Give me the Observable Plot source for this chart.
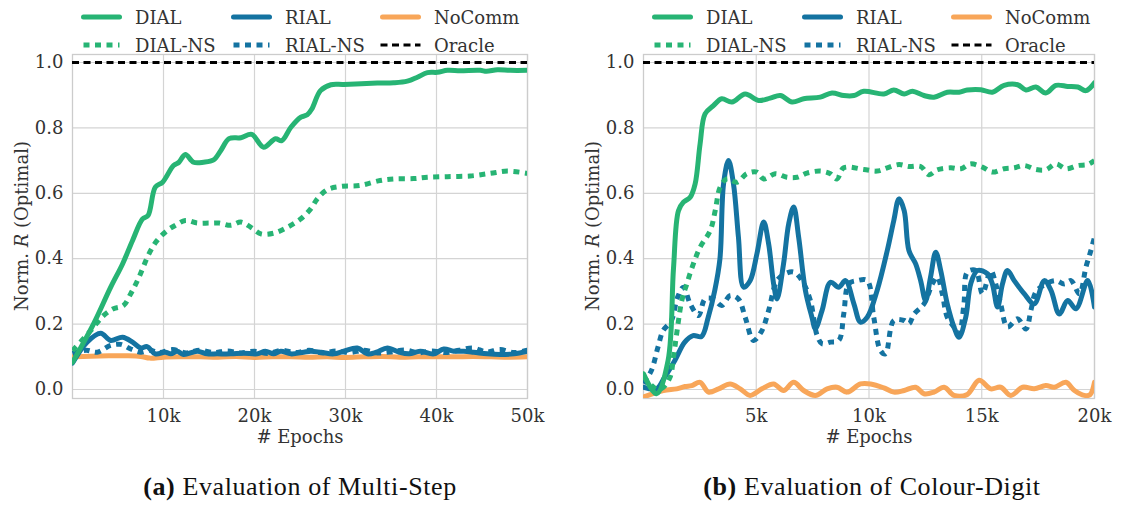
<!DOCTYPE html>
<html>
<head>
<meta charset="utf-8">
<script src="https://cdn.jsdelivr.net/npm/d3@7"></script>
<script src="https://cdn.jsdelivr.net/npm/@observablehq/plot@0.6"></script>
<style>
  body { margin: 0; background: #fff; }
  #fig { position: relative; width: 1125px; height: 507px; font-family: "DejaVu Serif", serif; color: #333; overflow: hidden; }
  #fig svg text { font-family: "DejaVu Serif", serif; }
  .panel { position: absolute; top: 0; }
  .leg { position: absolute; display: flex; align-items: center; font-family: "DejaVu Serif", serif; font-size: 18px; color: #333; white-space: nowrap; }
  .leg svg { margin-right: 13px; }
  .caption { position: absolute; top: 472px; width: 440px; text-align: center; font-family: "Liberation Serif", serif; font-size: 26px; letter-spacing: 0.6px; color: #111; }
</style>
</head>
<body>
<div id="fig"></div>
<script>
// Training curves, epochs in thousands, normalised reward relative to the optimum.

// (a) Multi-Step
const msDIAL = [[0,0.083],[2.3,0.20],[4.2,0.313],[5.5,0.384],[6.6,0.456],[7.7,0.522],[8.3,0.532],[9.1,0.619],[9.9,0.634],[11.1,0.685],[11.7,0.695],[12.4,0.719],[13.3,0.695],[14.4,0.695],[15.5,0.702],[16.3,0.731],[17.2,0.767],[18.5,0.770],[19.7,0.78],[21.0,0.741],[22.3,0.767],[23.0,0.761],[24.0,0.802],[25.1,0.833],[25.8,0.84],[26.3,0.858],[27.25,0.914],[28.4,0.932],[29.8,0.933],[33.5,0.937],[35.3,0.938],[36.8,0.943],[37.9,0.955],[39.0,0.969],[40.1,0.97],[41.2,0.976],[42.6,0.975],[44.8,0.976],[45.5,0.973],[46.7,0.978],[48.1,0.976],[50,0.976]];
const msDIALNS = [[0,0.119],[2.0,0.18],[3.4,0.226],[4.5,0.247],[5.6,0.257],[6.4,0.293],[7.3,0.343],[8.4,0.415],[9.3,0.456],[10.4,0.486],[11.3,0.502],[12.4,0.517],[13.7,0.509],[15.0,0.509],[16.1,0.509],[17.4,0.502],[18.5,0.512],[19.6,0.496],[20.7,0.476],[22.1,0.478],[23.6,0.496],[25.1,0.522],[26.2,0.553],[26.9,0.583],[28.0,0.611],[29.5,0.621],[31.6,0.624],[33.8,0.639],[35.3,0.644],[37.5,0.645],[39.0,0.649],[41.2,0.651],[43.7,0.653],[45.9,0.661],[47.8,0.668],[50,0.661]];
const msRIAL = [[0,0.081],[1.6,0.145],[3.1,0.172],[4.2,0.150],[5.5,0.160],[6.6,0.145],[7.5,0.127],[8.2,0.131],[9.1,0.109],[10.2,0.114],[10.8,0.109],[11.5,0.117],[12.2,0.107],[13.7,0.117],[14.8,0.109],[15.9,0.109],[17.4,0.109],[18.8,0.111],[20.3,0.109],[21.2,0.117],[22.1,0.109],[22.9,0.117],[24.0,0.109],[25.4,0.114],[26.2,0.117],[27.3,0.114],[28.7,0.109],[29.8,0.117],[31.3,0.127],[32.4,0.109],[33.4,0.114],[34.6,0.127],[35.9,0.114],[37.0,0.109],[38.2,0.117],[39.7,0.109],[40.8,0.124],[41.9,0.117],[43.0,0.117],[44.1,0.114],[45.6,0.109],[47.0,0.107],[48.5,0.109],[50,0.117]];
const msRIALNS = [[0,0.11],[1.5,0.12],[2.7,0.114],[4.2,0.135],[5.3,0.138],[6.4,0.124],[7.5,0.114],[8.5,0.12],[9.5,0.113],[11,0.122],[12.5,0.112],[14,0.12],[15.5,0.113],[17,0.118],[18.5,0.112],[20,0.117],[21.5,0.11],[23,0.12],[24.5,0.113],[26,0.12],[27.5,0.112],[29,0.118],[30.5,0.113],[32,0.12],[33.5,0.112],[35,0.115],[36.5,0.121],[38,0.112],[39.5,0.118],[41,0.113],[42.5,0.12],[44,0.127],[45.5,0.115],[47,0.122],[48.5,0.113],[50,0.12]];
const msNoComm = [[0,0.1],[2,0.102],[4,0.103],[6,0.103],[7.5,0.101],[8.5,0.096],[10,0.099],[12,0.1],[14,0.1],[16,0.099],[18,0.101],[20,0.098],[22,0.1],[24,0.1],[26,0.099],[28,0.1],[30,0.098],[32,0.1],[34,0.101],[36,0.099],[38,0.1],[40,0.1],[42,0.1],[44,0.101],[46,0.1],[48,0.099],[50,0.1]];

// (b) Colour-Digit
const cdDIAL = [[0,0.048],[0.57,-0.013],[1.09,0.089],[1.33,0.37],[1.55,0.547],[1.77,0.573],[2.07,0.588],[2.29,0.629],[2.51,0.751],[2.73,0.843],[3.10,0.868],[3.47,0.889],[3.92,0.879],[4.51,0.904],[5.10,0.884],[5.62,0.891],[6.07,0.899],[6.59,0.879],[7.10,0.889],[7.84,0.894],[8.36,0.907],[8.88,0.899],[9.33,0.899],[9.77,0.912],[10.66,0.904],[11.10,0.916],[11.56,0.904],[11.92,0.912],[12.44,0.899],[12.88,0.894],[13.47,0.909],[13.99,0.909],[14.36,0.916],[14.96,0.917],[15.47,0.909],[15.99,0.930],[16.59,0.932],[16.96,0.916],[17.40,0.925],[17.84,0.907],[18.29,0.930],[18.81,0.927],[19.26,0.925],[19.62,0.914],[20,0.938]];
const cdDIALNS = [[0,0.04],[0.6,0.0],[0.88,0.007],[1.18,0.038],[1.33,0.099],[1.47,0.17],[1.70,0.272],[1.92,0.323],[2.21,0.384],[2.51,0.435],[2.96,0.486],[3.18,0.547],[3.40,0.619],[3.70,0.644],[4.14,0.634],[4.58,0.660],[5.03,0.665],[5.33,0.644],[5.84,0.660],[6.36,0.649],[6.81,0.649],[7.25,0.662],[7.84,0.668],[8.29,0.660],[8.58,0.644],[8.88,0.678],[9.77,0.673],[10.36,0.668],[10.81,0.678],[11.33,0.688],[11.77,0.682],[12.29,0.682],[12.66,0.657],[13.03,0.672],[13.62,0.678],[14.07,0.675],[14.51,0.690],[15.03,0.680],[15.47,0.665],[15.99,0.675],[16.44,0.678],[16.88,0.685],[17.40,0.673],[17.84,0.672],[18.29,0.690],[18.73,0.675],[19.26,0.685],[19.70,0.688],[20,0.70]];
const cdRIAL = [[0,0.007],[0.57,0.002],[0.94,0.038],[1.39,0.089],[1.83,0.145],[2.2,0.165],[2.57,0.162],[2.87,0.221],[3.16,0.303],[3.39,0.40],[3.55,0.629],[3.77,0.70],[3.99,0.629],[4.21,0.466],[4.44,0.313],[4.73,0.333],[5.03,0.415],[5.33,0.512],[5.55,0.445],[5.77,0.323],[5.92,0.277],[6.21,0.384],[6.44,0.507],[6.66,0.558],[6.88,0.466],[7.18,0.303],[7.47,0.221],[7.62,0.186],[7.92,0.242],[8.29,0.328],[8.66,0.313],[8.96,0.333],[9.33,0.262],[9.62,0.206],[9.92,0.221],[10.36,0.303],[10.81,0.425],[11.10,0.517],[11.33,0.583],[11.56,0.547],[11.77,0.425],[12.07,0.384],[12.29,0.333],[12.51,0.272],[12.73,0.344],[12.96,0.420],[13.18,0.364],[13.47,0.262],[13.77,0.191],[13.99,0.160],[14.29,0.221],[14.51,0.323],[14.81,0.364],[15.25,0.354],[15.47,0.323],[15.70,0.252],[15.92,0.323],[16.14,0.364],[16.44,0.333],[16.88,0.293],[17.33,0.262],[17.77,0.333],[18.07,0.303],[18.44,0.231],[18.81,0.272],[19.18,0.247],[19.70,0.333],[20,0.252]];
const cdRIALNS = [[0,0.018],[0.35,0.058],[0.64,0.129],[0.87,0.18],[1.24,0.211],[1.5,0.28],[1.77,0.313],[2.07,0.262],[2.44,0.226],[2.73,0.277],[3.10,0.277],[3.47,0.257],[3.84,0.287],[4.21,0.277],[4.51,0.221],[4.88,0.150],[5.25,0.180],[5.55,0.242],[5.92,0.333],[6.29,0.354],[6.66,0.359],[7.03,0.333],[7.40,0.272],[7.70,0.165],[7.92,0.140],[8.29,0.145],[8.66,0.150],[8.88,0.231],[9.10,0.323],[9.47,0.333],[9.92,0.333],[10.21,0.221],[10.51,0.119],[10.73,0.109],[11.10,0.211],[11.56,0.211],[11.77,0.201],[12.0,0.231],[12.44,0.262],[12.81,0.323],[13.03,0.344],[13.25,0.293],[13.47,0.221],[13.77,0.191],[13.99,0.170],[14.21,0.262],[14.36,0.359],[14.73,0.364],[15.03,0.293],[15.40,0.364],[15.62,0.323],[15.84,0.262],[16.14,0.191],[16.59,0.216],[16.96,0.185],[17.18,0.242],[17.40,0.298],[17.84,0.323],[18.29,0.333],[18.66,0.323],[18.96,0.333],[19.33,0.293],[19.62,0.374],[19.84,0.425],[20,0.466]];
const cdNoComm = [[0,-0.023],[0.88,-0.003],[1.47,0.002],[1.84,0.009],[2.14,0.012],[2.51,0.022],[2.88,-0.008],[3.33,0.002],[3.84,0.017],[4.29,0.002],[4.73,-0.018],[5.25,0.002],[5.77,0.017],[6.21,-0.003],[6.66,0.022],[7.10,-0.003],[7.62,-0.018],[8.14,0.002],[8.58,0.007],[9.03,-0.008],[9.62,0.017],[10.07,0.017],[10.66,0.005],[11.10,-0.008],[11.56,-0.003],[12.07,0.007],[12.44,-0.013],[12.88,-0.008],[13.33,0.007],[13.77,-0.018],[14.36,-0.015],[14.88,0.028],[15.40,0.002],[15.84,0.007],[16.29,-0.018],[16.81,0.007],[17.33,0.002],[17.84,0.012],[18.22,0.007],[18.73,0.022],[19.11,-0.003],[19.55,-0.018],[19.8,-0.016],[20,0.022]];

const oracleValue = 1.0;

// Axis ticks
const yTicks = [0, 0.2, 0.4, 0.6, 0.8, 1.0];
const msXTicks = [10, 20, 30, 40, 50];
const cdXTicks = [5, 10, 15, 20];

// Legend entries, in the order they are laid out (three columns, two rows)
const legendNames = ["DIAL", "RIAL", "NoComm", "DIAL-NS", "RIAL-NS", "Oracle"];

const GREEN = "#27b474", BLUE = "#1473a1", ORANGE = "#f8a659", BLACK = "#000";
const DOT = "6,5.5", DASH = "7,4.5";
const SERIF = '"DejaVu Serif", serif';
const styleOf = {
  "DIAL":    {stroke: GREEN,  dash: null},
  "RIAL":    {stroke: BLUE,   dash: null},
  "NoComm":  {stroke: ORANGE, dash: null},
  "DIAL-NS": {stroke: GREEN,  dash: DOT},
  "RIAL-NS": {stroke: BLUE,   dash: DOT},
  "Oracle":  {stroke: BLACK,  dash: DASH}
};

const fig = document.getElementById("fig");

function curve(data, name) {
  const s = styleOf[name];
  return Plot.line(data, {
    x: d => d[0], y: d => d[1],
    stroke: s.stroke, strokeWidth: 5,
    strokeDasharray: s.dash || undefined,
    strokeLinecap: s.dash ? "butt" : "round",
    strokeLinejoin: "round",
    curve: "catmull-rom", clip: true
  });
}

function panel({left, marginRight, xmax, xTicks, series, caption, captionCenter}) {
  const W = 565, H = 460, mL = 72, mT = 54, mB = 62;
  const chart = Plot.plot({
    width: W, height: H,
    marginLeft: mL, marginRight, marginTop: mT, marginBottom: mB,
    style: {fontFamily: SERIF, fontSize: "18px", color: "#333", background: "transparent"},
    x: {domain: [0, xmax]},
    y: {domain: [-0.0275, 1.0245]},
    marks: [
      Plot.gridX(xTicks, {stroke: "#d4d4d4", strokeOpacity: 1, strokeWidth: 1.2}),
      Plot.gridY(yTicks, {stroke: "#d4d4d4", strokeOpacity: 1, strokeWidth: 1.2}),
      Plot.frame({stroke: "#cccccc", strokeWidth: 1.3}),
      curve(series["NoComm"], "NoComm"),
      curve(series["RIAL-NS"], "RIAL-NS"),
      curve(series["RIAL"], "RIAL"),
      curve(series["DIAL-NS"], "DIAL-NS"),
      curve(series["DIAL"], "DIAL"),
      Plot.ruleY([oracleValue], {stroke: BLACK, strokeWidth: 3, strokeDasharray: DASH}),
      Plot.axisX(xTicks, {tickSize: 0, tickPadding: 11, tickFormat: d => `${d}k`, label: null, fontSize: 18, fontFamily: SERIF}),
      Plot.axisY(yTicks, {tickSize: 0, tickPadding: 9, tickFormat: d3.format(".1f"), label: null, fontSize: 18, fontFamily: SERIF}),
      Plot.text(["# Epochs"], {frameAnchor: "bottom", dy: 44, fontSize: 18, fontFamily: SERIF, fill: "#333"})
    ]
  });
  chart.classList.add("panel");
  chart.style.left = left + "px";

  // Rotated y-axis title with an italic R
  const t = d3.select(chart).append("text")
    .attr("transform", `translate(21,${(mT + (H - mB)) / 2}) rotate(-90)`)
    .attr("text-anchor", "middle")
    .attr("dominant-baseline", "central")
    .attr("font-family", SERIF)
    .attr("font-size", 18)
    .attr("fill", "#333");
  t.append("tspan").text("Norm. ");
  t.append("tspan").attr("font-style", "italic").text("R");
  t.append("tspan").text(" (Optimal)");
  fig.appendChild(chart);

  // Legend: three columns, two rows
  const colX = [9, 159, 308];
  legendNames.forEach((name, i) => {
    const s = styleOf[name];
    const col = i % 3, row = Math.floor(i / 3);
    const item = document.createElement("div");
    item.className = "leg";
    item.style.left = (left + mL + colX[col]) + "px";
    item.style.top = (row === 0 ? 5 : 33) + "px";
    const sw = d3.create("svg").attr("width", 41).attr("height", 24);
    sw.append("line").attr("x1", name === "Oracle" ? 0.5 : 2.5).attr("x2", name === "Oracle" ? 40.5 : 38.5)
      .attr("y1", 12).attr("y2", 12)
      .attr("stroke", s.stroke)
      .attr("stroke-width", name === "Oracle" ? 3 : 5)
      .attr("stroke-linecap", s.dash ? "butt" : "round")
      .attr("stroke-dasharray", s.dash || null);
    item.appendChild(sw.node());
    const lab = document.createElement("span");
    lab.textContent = name;
    item.appendChild(lab);
    fig.appendChild(item);
  });

  const cap = document.createElement("div");
  cap.className = "caption";
  cap.style.left = (captionCenter - 220) + "px";
  cap.innerHTML = caption;
  fig.appendChild(cap);
}

panel({
  left: 0, marginRight: 38, xmax: 50, xTicks: msXTicks,
  series: {"DIAL": msDIAL, "DIAL-NS": msDIALNS, "RIAL": msRIAL, "RIAL-NS": msRIALNS, "NoComm": msNoComm},
  caption: "<b>(a)</b> Evaluation of Multi-Step", captionCenter: 300
});
panel({
  left: 571, marginRight: 42, xmax: 20, xTicks: cdXTicks,
  series: {"DIAL": cdDIAL, "DIAL-NS": cdDIALNS, "RIAL": cdRIAL, "RIAL-NS": cdRIALNS, "NoComm": cdNoComm},
  caption: "<b>(b)</b> Evaluation of Colour-Digit", captionCenter: 872
});
</script>
</body>
</html>
